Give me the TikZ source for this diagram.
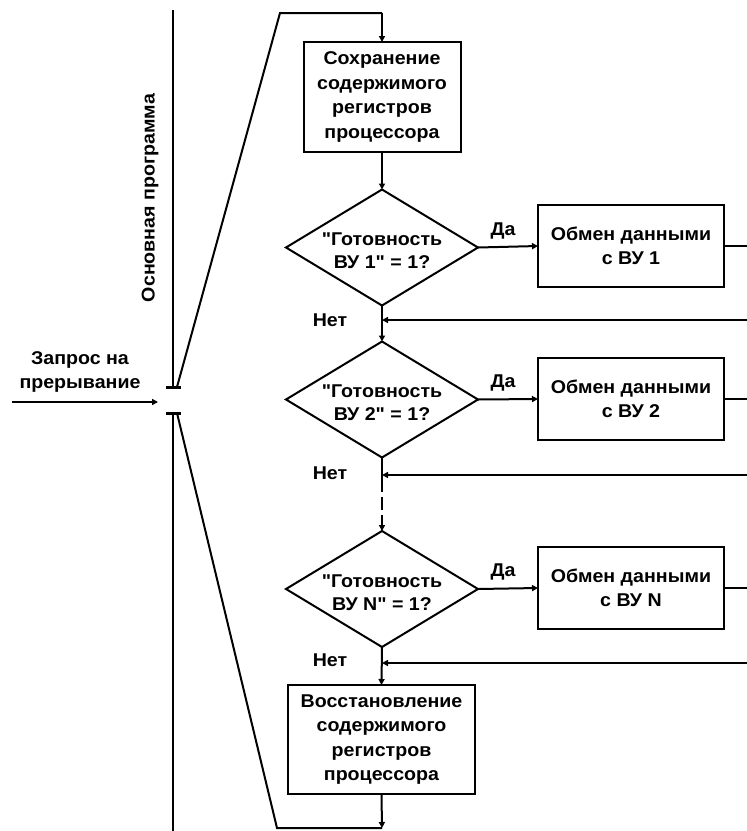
\documentclass[tikz,border=0pt]{standalone}
\usepackage{fontspec}
\setmainfont{Liberation Sans}[FakeStretch=1.06,Ligatures=TeXOff]
\usetikzlibrary{shapes.geometric,arrows.meta}
\begin{document}
\begin{tikzpicture}[x=1pt,y=-1pt,line width=2pt,
  font=\bfseries\fontsize{18.5}{24.5}\selectfont,
  box/.style={draw,rectangle,inner sep=0pt,outer sep=0pt,align=center},
  dia/.style={draw,diamond,minimum width=192pt,minimum height=116pt,inner sep=0pt,outer sep=0pt},
  dtext/.style={align=center,font=\bfseries\fontsize{18.5}{23}\selectfont},
  xbox/.style={box,minimum width=186pt,minimum height=82pt},
  arr/.style={-{Triangle[length=6pt,width=6pt]}},
  tick/.style={line width=3pt}]
\useasboundingbox (0,0) rectangle (747,831);

% main program timeline and interrupt request
\draw (173,10) -- (173,387);
\draw (173,413) -- (173,831);
\coordinate (up) at (177,387);
\coordinate (lo) at (177,413);
\draw[tick] (166,387) -- (181,387);
\draw[tick] (166,413) -- (181,413);
\coordinate (in0) at (12,402);
\coordinate (in1) at (158,402);
\draw[arr] (in0) -- (in1);
\node[align=center] (req) at (80,372) {Запрос на\\прерывание};
\node[rotate=90] (mainprog) at (150,198) {Основная программа};

% handler blocks
\node[box,minimum width=157pt,minimum height=110pt] (save) at (382,97)
  {Сохранение\\содержимого\\регистров\\процессора};
\node[dia] (d1) at (382,247.5) {};
\node[dtext] at (382,251) {"Готовность\\ВУ 1" = 1?};
\node[xbox] (x1) at (631,246) {Обмен данными\\с ВУ 1};

\node[dia] (d2) at (382,399.5) {};
\node[dtext] at (382,403) {"Готовность\\ВУ 2" = 1?};
\node[xbox] (x2) at (631,399) {Обмен данными\\с ВУ 2};

\node[dia] (d3) at (382,589) {};
\node[dtext] at (382,592.5) {"Готовность\\ВУ N" = 1?};
\node[xbox] (x3) at (631,588) {Обмен данными\\с ВУ N};

\node[box,minimum width=187pt,minimum height=109pt] (rest) at (381.5,739.5)
  {Восстановление\\содержимого\\регистров\\процессора};

% entry from the interrupt
\coordinate (t1) at (280,13);
\coordinate (t2) at (382,13);
\draw (up) -- (t1) -- (t2);
\draw[arr] (t2) -- (save.north);
\draw[arr] (save.south) -- (d1.north);

% "yes" branches
\foreach \i in {1,2,3} {
  \draw[arr] (d\i.east) -- (x\i.west);
  \draw (x\i.east) -- (747,0 |- x\i.east);
  \node at ([xshift=25pt,yshift=17pt]d\i.east) {Да};
}

% returns from exchange blocks
\coordinate (r1) at (747,320);
\coordinate (r2) at (747,475);
\coordinate (r3) at (747,663);
\draw[arr] (r1) -- (r1 -| d1.south);
\draw[arr] (r2) -- (r2 -| d2.south);
\draw[arr] (r3) -- (r3 -| d3.south);
\node at (330,320) {Нет};
\node at (330,473) {Нет};
\node at (330,660) {Нет};

% "no" chain
\draw[arr] (d1.south) -- (d2.north);
\coordinate (m1) at (382,479);
\coordinate (m2) at (382,521);
\draw (d2.south) -- (m1);
\draw[dash pattern=on 13pt off 5pt] (m1) -- (m2);
\draw[arr] (m2) -- (d3.north);
\draw[arr] (d3.south) -- (rest.north);

% back to the main program
\coordinate (b1) at (382,828);
\coordinate (b2) at (277,828);
\draw[arr] (rest.south) -- (b1);
\draw (b1) -- (b2) -- (lo);
\end{tikzpicture}
\end{document}
